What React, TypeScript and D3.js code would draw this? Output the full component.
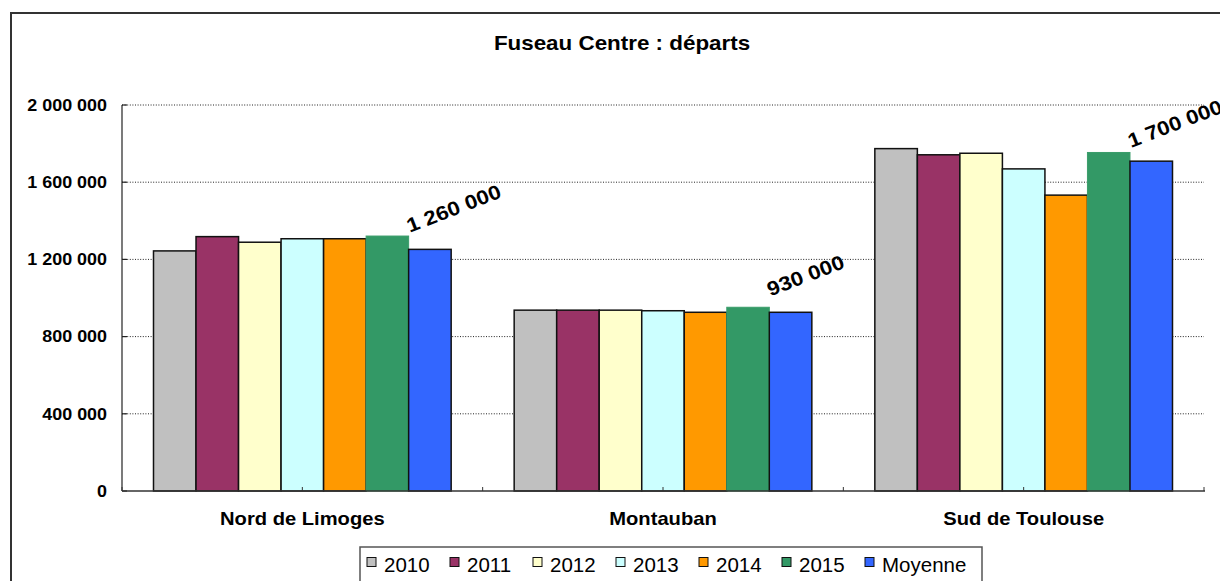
import React from "react";
import * as d3 from "d3";

const categories = ["Nord de Limoges", "Montauban", "Sud de Toulouse"];
const seriesNames = ["2010", "2011", "2012", "2013", "2014", "2015", "Moyenne"];
const seriesColors = ["#C0C0C0", "#993366", "#FFFFCC", "#CCFFFF", "#FF9900", "#339966", "#3366FF"];
const values2010 = [1244000, 937000, 1774000];
const values2011 = [1318000, 937000, 1742000];
const values2012 = [1289000, 937000, 1750000];
const values2013 = [1307000, 934000, 1669000];
const values2014 = [1307000, 926000, 1533000];
const values2015 = [1321000, 952000, 1754000];
const valuesMoyenne = [1252000, 926000, 1709000];
const labelValues = [1260000, 930000, 1700000];
const yTicks = [0, 400000, 800000, 1200000, 1600000, 2000000];
const title = "Fuseau Centre : départs";

const seriesValues = [values2010, values2011, values2012, values2013, values2014, values2015, valuesMoyenne];

const W = 1220;
const H = 581;
const FONT = "'Liberation Sans', Arial, sans-serif";
const ST = 1.12;

const fmt = (v: number) => d3.format(",")(v).replace(/,/g, " ");

export default function App() {
  const left = 122, right = 1204, top = 105, bottom = 491;
  const x0 = d3.scaleBand<string>().domain(categories).range([left, right]).padding(0);
  const gap = 31.5;
  const x1 = d3.scaleBand<string>().domain(seriesNames).range([gap, x0.bandwidth() - gap]).padding(0);
  const y = d3.scaleLinear().domain([0, 2000000]).range([bottom, top]);

  const halfTicks = d3.range(0, categories.length * 2 + 1).map((k) => left + (k * x0.bandwidth()) / 2);

  return (
    <svg width={W} height={H} style={{ position: "absolute", left: 0, top: 0, background: "#fff" }} fontFamily={FONT}>
      <rect x={0} y={0} width={W} height={H} fill="#fff" />
      <rect x={11} y={13} width={1240} height={620} fill="none" stroke="#333" strokeWidth={2} />
      <text transform={`translate(622,50) scale(${ST},1)`} textAnchor="middle" fontWeight="bold" fontSize={20} fill="#000">
        {title}
      </text>

      {/* gridlines */}
      {yTicks.filter((t) => t > 0).map((t) => (
        <line key={"g" + t} x1={left} x2={right} y1={y(t)} y2={y(t)} stroke="#222" strokeWidth={1} strokeDasharray="1 1.6" />
      ))}

      {/* bars */}
      {categories.map((c, ci) => (
        <g key={c} transform={`translate(${x0(c)},0)`}>
          {seriesNames.map((s, si) => {
            const v = seriesValues[si][ci];
            const isGreen = s === "2015";
            return (
              <rect
                key={s}
                x={x1(s)}
                y={y(v)}
                width={x1.bandwidth()}
                height={bottom - y(v)}
                fill={seriesColors[si]}
                stroke={isGreen ? "#3a9d6a" : "#111"}
                strokeWidth={isGreen ? 1 : 1.5}
              />
            );
          })}
        </g>
      ))}

      {/* axes */}
      <line x1={left} x2={left} y1={top} y2={bottom} stroke="#222" strokeWidth={1.2} />
      {yTicks.map((t) => (
        <g key={"t" + t}>
          <line x1={left} x2={left + 5} y1={y(t)} y2={y(t)} stroke="#222" strokeWidth={1.2} />
          <text transform={`translate(107,${y(t) + 5.8}) scale(${ST},1)`} textAnchor="end" fontWeight="bold" fontSize={16} fill="#000">
            {fmt(t)}
          </text>
        </g>
      ))}
      <line x1={left} x2={right + 1} y1={bottom} y2={bottom} stroke="#333" strokeWidth={1.5} />
      {halfTicks.map((hx, i) => (
        <line key={"h" + i} x1={hx} x2={hx} y1={bottom} y2={bottom - 4} stroke="#333" strokeWidth={1} />
      ))}
      {categories.map((c) => (
        <text key={"c" + c} transform={`translate(${(x0(c) as number) + x0.bandwidth() / 2},525) scale(${ST},1)`} textAnchor="middle" fontWeight="bold" fontSize={18} fill="#000">
          {c}
        </text>
      ))}

      {/* data labels */}
      {categories.map((c, ci) => {
        const bx = (x0(c) as number) + (x1("Moyenne") as number) + 1;
        const by = y(labelValues[ci]) - 15;
        return (
          <text key={"l" + c} transform={`translate(${bx},${by}) rotate(-21) scale(${ST},1)`} fontWeight="bold" fontSize={20} fill="#000">
            {fmt(labelValues[ci])}
          </text>
        );
      })}

      {/* legend */}
      <rect x={360} y={547} width={622} height={50} fill="#fff" stroke="#555" strokeWidth={1.5} />
      {seriesNames.map((s, i) => {
        const sx = 367 + i * 83;
        return (
          <g key={"lg" + s}>
            <rect x={sx} y={557.5} width={9} height={9} fill={seriesColors[i]} stroke="#111" strokeWidth={1} />
            <text x={sx + 17} y={571.5} fontSize={20.5} fill="#000">
              {s}
            </text>
          </g>
        );
      })}
    </svg>
  );
}
